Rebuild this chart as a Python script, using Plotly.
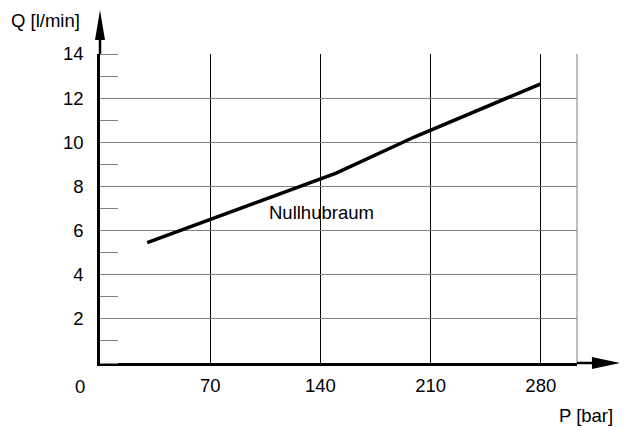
import plotly.graph_objects as go

# Kennlinie Nullhubraum
p_bar = [30, 70, 100, 150, 200, 240, 280]
q_lmin = [5.45, 6.5, 7.3, 8.6, 10.25, 11.45, 12.65]

x_ticks = [70, 140, 210, 280]
y_ticks = [2, 4, 6, 8, 10, 12, 14]
curve_label = "Nullhubraum"
label_pos = (141, 6.8)

FONT = dict(family="Liberation Sans, Arial, sans-serif", size=18.5, color="black")

fig = go.Figure()
fig.add_trace(go.Scatter(
    x=p_bar, y=q_lmin, mode="lines",
    line=dict(color="black", width=3.5),
    showlegend=False, hoverinfo="skip"
))

# page body has an 8px margin, so the figure is a little smaller than the window
fig.update_layout(
    width=619, height=422,
    margin=dict(l=92, r=50, t=46, b=67),
    plot_bgcolor="white", paper_bgcolor="white",
    font=FONT,
    xaxis=dict(
        range=[0, 303], tickvals=x_ticks, ticks="",
        showgrid=True, gridcolor="black", gridwidth=1,
        showline=True, linecolor="black", linewidth=2.5,
        zeroline=False, ticklabelstandoff=4
    ),
    yaxis=dict(
        range=[0, 14], tickvals=y_ticks, ticks="",
        showgrid=True, gridcolor="#808080", gridwidth=1,
        showline=True, linecolor="black", linewidth=2.5,
        zeroline=False, ticklabelstandoff=10,
        minor=dict(dtick=1, ticks="inside", ticklen=18,
                   tickcolor="#808080", tickwidth=1, showgrid=False)
    ),
)

# right border of the grid
fig.add_shape(type="line", xref="x domain", yref="y domain",
              x0=1, x1=1, y0=0, y1=1, line=dict(color="#808080", width=1))

# axis arrows
fig.add_shape(type="line", xref="paper", yref="paper",
              x0=1, x1=1.06, y0=0, y1=0, line=dict(color="black", width=2.5))
fig.add_shape(type="path", xref="paper", yref="paper",
              xsizemode="pixel", ysizemode="pixel", xanchor=1.09, yanchor=0,
              path="M0,0 L-28,6 L-28,-6 Z", fillcolor="black", line=dict(width=0))
fig.add_shape(type="line", xref="paper", yref="paper",
              x0=0, x1=0, y0=1, y1=1.1, line=dict(color="black", width=2.5))
fig.add_shape(type="path", xref="paper", yref="paper",
              xsizemode="pixel", ysizemode="pixel", xanchor=0, yanchor=1.142,
              path="M0,0 L-5,-30 L5,-30 Z", fillcolor="black", line=dict(width=0))

fig.add_annotation(x=label_pos[0], y=label_pos[1], text=curve_label,
                   showarrow=False, font=FONT)
fig.add_annotation(xref="paper", yref="paper", x=0, y=0, text="0",
                   showarrow=False, xanchor="center", yanchor="middle",
                   xshift=-20, yshift=-23, font=FONT)
fig.add_annotation(xref="paper", yref="paper", x=0, y=1, text="Q [l/min]",
                   showarrow=False, xanchor="right", yanchor="middle",
                   xshift=-18, yshift=34, font=FONT)
fig.add_annotation(xref="paper", yref="paper", x=1, y=0, text="P [bar]",
                   showarrow=False, xanchor="right", yanchor="middle",
                   xshift=38, yshift=-52, font=FONT)

fig.write_html("out.html")
